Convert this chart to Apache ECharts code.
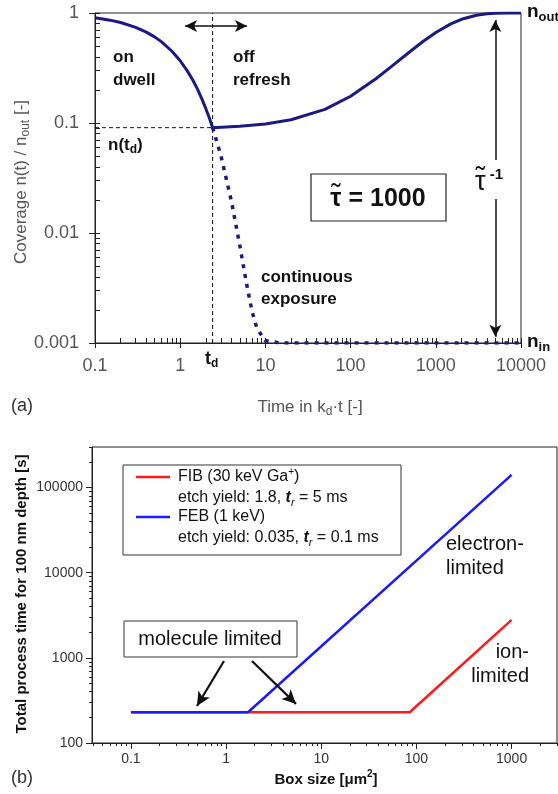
<!DOCTYPE html>
<html><head><meta charset="utf-8">
<script src="https://cdn.jsdelivr.net/npm/echarts@6/dist/echarts.min.js"></script>
<style>html,body{margin:0;padding:0;background:#fff}#c{width:558px;height:794px}</style>
</head><body><div id="c"></div>
<script>
// ---------- Panel (a): coverage vs time ----------
const aDwellT = [0.1, 0.15, 0.2, 0.3, 0.4, 0.5, 0.6, 0.8, 1, 1.2, 1.4, 1.6, 1.8, 2, 2.2, 2.4];
const aDwellN = [0.905, 0.861, 0.819, 0.741, 0.670, 0.607, 0.549, 0.449, 0.368, 0.301, 0.247, 0.202, 0.165, 0.135, 0.111, 0.0907];
const aRefreshT = [2.4, 5, 10, 20, 50, 100, 200, 300, 500, 700, 1000, 1500, 2000, 3000, 4000, 5000, 7000, 10000];
const aRefreshN = [0.0907, 0.0934, 0.0979, 0.107, 0.133, 0.175, 0.254, 0.325, 0.447, 0.548, 0.665, 0.797, 0.877, 0.955, 0.983, 0.994, 0.999, 1.0];
const aContT = [2.4, 3, 4, 5, 6, 7, 8, 10, 15, 10000];
const aContN = [0.0907, 0.0508, 0.0193, 0.00774, 0.00348, 0.00191, 0.00134, 0.00105, 0.001, 0.001];
const aTd = 2.4;
const aNtd = 0.0907;
const aTauArrowT = 5000;
const aXTicks = [0.1, 1, 10, 100, 1000, 10000];
const aYTicks = [0.001, 0.01, 0.1, 1];

// ---------- Panel (b): process time vs box size ----------
const bFibX = [0.1, 85, 1000];
const bFibY = [230, 230, 2800];
const bFebX = [0.1, 1.7, 1000];
const bFebY = [230, 230, 141000];
const bXTicks = [0.1, 1, 10, 100, 1000];
const bYTicks = [100, 1000, 10000, 100000];
const bXRange = [0.039, 3000];
const bYRange = [100, 300000];

const L = Math.log10;
const FF = "'Liberation Sans', Arial, Helvetica, sans-serif";
const pairs = (xs, ys) => xs.map((x, i) => [L(x), L(ys[i])]);

function minorVals(lo, hi, withMajor) {
  const out = [];
  for (let e = Math.floor(L(lo)) - 1; e <= Math.ceil(L(hi)); e++) {
    for (let k = withMajor ? 1 : 2; k <= 9; k++) {
      const v = k * Math.pow(10, e);
      if (v >= lo * 0.9999 && v <= hi * 1.0001) out.push(L(v));
    }
  }
  return out;
}
function fmt(ticks) {
  return function (v) {
    const t = ticks.find(t => Math.abs(L(t) - v) < 1e-6);
    return t === undefined ? '' : String(t);
  };
}

// ---------- rich text helper (for sub/superscripts and accents) ----------
const mctx = document.createElement('canvas').getContext('2d');
function rt(segs, x, y, o) {
  o = o || {};
  const base = { size: o.size || 16, weight: o.weight || 'normal', style: o.style || 'normal', fill: o.fill || '#111' };
  let cx = 0, prevStart = 0, prevW = 0;
  const kids = [];
  segs.forEach(s => {
    const p = Object.assign({}, base, s[1] || {});
    mctx.font = p.style + ' ' + p.weight + ' ' + p.size + 'px ' + FF;
    const w = mctx.measureText(s[0]).width;
    let px = cx;
    if (p.over) px = prevStart + prevW / 2 - w / 2;
    kids.push({ type: 'text', x: px, y: p.dy || 0, silent: true,
      style: { text: s[0], fill: p.fill, fontSize: p.size, fontWeight: p.weight, fontStyle: p.style, fontFamily: FF,
        align: 'left', textAlign: 'left', verticalAlign: 'middle', textVerticalAlign: 'middle' } });
    if (!p.over) { prevStart = cx; prevW = w; cx += w; }
  });
  const shift = o.align === 'center' ? -cx / 2 : (o.align === 'right' ? -cx : 0);
  kids.forEach(k => { k.x += shift; });
  return { type: 'group', x: x, y: y, rotation: o.rotation || 0, silent: true, children: kids };
}

const chart = echarts.init(document.getElementById('c'), null, { renderer: 'canvas' });

const axLine = { show: true, onZero: false, lineStyle: { color: '#222', width: 1 } };

const option = {
  animation: false,
  backgroundColor: '#fff',
  grid: [
    { left: 95, top: 13, width: 426, height: 330, show: true, borderColor: '#222', borderWidth: 1, backgroundColor: 'transparent' },
    { left: 92, top: 447, width: 465, height: 296, show: true, borderColor: '#222', borderWidth: 1, backgroundColor: 'transparent' }
  ],
  xAxis: [
    { gridIndex: 0, type: 'value', min: L(0.1), max: L(10000), position: 'bottom', axisLine: axLine,
      axisTick: { show: true, customValues: aXTicks.map(L), inside: false, length: 5, lineStyle: { color: '#222' } },
      axisLabel: { show: true, customValues: aXTicks.map(L), formatter: fmt(aXTicks), color: '#555', fontSize: 18, fontFamily: FF, margin: 14 },
      splitLine: { show: false } },
    { gridIndex: 0, type: 'value', min: L(0.1), max: L(10000), position: 'bottom', axisLine: { show: false, onZero: false },
      axisTick: { show: true, customValues: minorVals(0.1, 10000, true), inside: true, length: 5, lineStyle: { color: '#222' } },
      axisLabel: { show: false }, splitLine: { show: false } },
    { gridIndex: 1, type: 'value', min: L(bXRange[0]), max: L(bXRange[1]), position: 'bottom', axisLine: axLine,
      axisTick: { show: true, customValues: bXTicks.map(L), inside: false, length: 6, lineStyle: { color: '#222' } },
      axisLabel: { show: true, customValues: bXTicks.map(L), formatter: fmt(bXTicks), color: '#333', fontSize: 14, fontFamily: FF, margin: 9 },
      splitLine: { show: false } },
    { gridIndex: 1, type: 'value', min: L(bXRange[0]), max: L(bXRange[1]), position: 'bottom', axisLine: { show: false, onZero: false },
      axisTick: { show: true, customValues: minorVals(bXRange[0], bXRange[1], false), inside: false, length: 3, lineStyle: { color: '#222' } },
      axisLabel: { show: false }, splitLine: { show: false } }
  ],
  yAxis: [
    { gridIndex: 0, type: 'value', min: L(0.001), max: L(1), position: 'left', axisLine: axLine,
      axisTick: { show: true, customValues: aYTicks.map(L), inside: false, length: 6, lineStyle: { color: '#222' } },
      axisLabel: { show: true, customValues: aYTicks.map(L), formatter: fmt(aYTicks), color: '#555', fontSize: 18, fontFamily: FF, margin: 16 },
      splitLine: { show: false } },
    { gridIndex: 0, type: 'value', min: L(0.001), max: L(1), position: 'left', axisLine: { show: false, onZero: false },
      axisTick: { show: true, customValues: minorVals(0.001, 1, true), inside: true, length: 5, lineStyle: { color: '#222' } },
      axisLabel: { show: false }, splitLine: { show: false } },
    { gridIndex: 1, type: 'value', min: L(bYRange[0]), max: L(bYRange[1]), position: 'left', axisLine: axLine,
      axisTick: { show: true, customValues: bYTicks.map(L), inside: false, length: 6, lineStyle: { color: '#222' } },
      axisLabel: { show: true, customValues: bYTicks.map(L), formatter: fmt(bYTicks), color: '#333', fontSize: 14, fontFamily: FF, margin: 9 },
      splitLine: { show: false } },
    { gridIndex: 1, type: 'value', min: L(bYRange[0]), max: L(bYRange[1]), position: 'left', axisLine: { show: false, onZero: false },
      axisTick: { show: true, customValues: minorVals(bYRange[0], bYRange[1], false), inside: false, length: 3, lineStyle: { color: '#222' } },
      axisLabel: { show: false }, splitLine: { show: false } }
  ],
  series: [
    { name: 'n(td) guide', type: 'line', xAxisIndex: 0, yAxisIndex: 0, showSymbol: false, silent: true,
      data: [[L(0.1), L(aNtd)], [L(aTd), L(aNtd)]],
      lineStyle: { color: '#111', width: 1, type: [4, 3] },
      markLine: { silent: true, animation: false, symbolSize: [9, 12], label: { show: false }, emphasis: { disabled: true },
        lineStyle: { color: '#111', width: 1.5, type: 'solid' },
        data: [
          [{ coord: [L(1.14), L(0.762)], symbol: 'arrow' }, { coord: [L(6.08), L(0.762)], symbol: 'arrow' }],
          [{ coord: [L(aTauArrowT), L(0.0461)], symbol: 'none' }, { coord: [L(aTauArrowT), L(0.863)], symbol: 'arrow' }],
          [{ coord: [L(aTauArrowT), L(0.0204)], symbol: 'none' }, { coord: [L(aTauArrowT), L(0.00114)], symbol: 'arrow' }]
        ] } },
    { name: 'td guide', type: 'line', xAxisIndex: 0, yAxisIndex: 0, showSymbol: false, silent: true,
      data: [[L(aTd), L(0.001)], [L(aTd), L(1)]],
      lineStyle: { color: '#111', width: 1, type: [4, 3] } },
    { name: 'continuous exposure', type: 'line', xAxisIndex: 0, yAxisIndex: 0, showSymbol: false,
      data: pairs(aContT, aContN),
      lineStyle: { color: '#1a1a80', width: 3.5, type: [4, 6], cap: 'butt' } },
    { name: 'on/off', type: 'line', xAxisIndex: 0, yAxisIndex: 0, showSymbol: false,
      data: pairs(aDwellT, aDwellN).concat(pairs(aRefreshT, aRefreshN).slice(1)),
      lineStyle: { color: '#1a1a80', width: 3 } },
    { name: 'FIB (30 keV Ga+)', type: 'line', xAxisIndex: 2, yAxisIndex: 2, showSymbol: false,
      data: pairs(bFibX, bFibY),
      lineStyle: { color: '#ff1a1a', width: 2.5 },
      markLine: { silent: true, animation: false, symbolSize: [10, 14], label: { show: false }, emphasis: { disabled: true },
        lineStyle: { color: '#111', width: 2.2, type: 'solid' },
        data: [
          [{ coord: [L(0.951), L(920)], symbol: 'none' }, { coord: [L(0.494), L(272)], symbol: 'arrow' }],
          [{ coord: [L(1.87), L(920)], symbol: 'none' }, { coord: [L(5.43), L(288)], symbol: 'arrow' }]
        ] } },
    { name: 'FEB (1 keV)', type: 'line', xAxisIndex: 2, yAxisIndex: 2, showSymbol: false,
      data: pairs(bFebX, bFebY),
      lineStyle: { color: '#1a1aff', width: 2.5 } }
  ],
  graphic: { elements: [
    // panel (a) annotations
    rt([['on']], 113, 57, { size: 17, weight: 'bold' }),
    rt([['dwell']], 113, 80, { size: 17, weight: 'bold' }),
    rt([['off']], 233, 57, { size: 17, weight: 'bold' }),
    rt([['refresh']], 233, 80, { size: 17, weight: 'bold' }),
    rt([['n(t'], ['d', { size: 12, dy: 5 }], [')']], 108, 145, { size: 17, weight: 'bold' }),
    rt([['t'], ['d', { size: 12, dy: 5 }]], 205, 359, { size: 18, weight: 'bold' }),
    rt([['continuous']], 261, 277, { size: 17, weight: 'bold' }),
    rt([['exposure']], 261, 299, { size: 17, weight: 'bold' }),
    { type: 'rect', shape: { x: 311, y: 174, width: 135, height: 47 }, style: { fill: '#fff', stroke: '#222', lineWidth: 1.2 }, silent: true },
    rt([['\u03C4'], ['\u02DC', { over: true, size: 28, weight: 'normal', dy: -4 }], [' = 1000']], 378, 199, { size: 25, weight: 'bold', align: 'center' }),
    rt([['\u03C4', { size: 27, weight: 'normal' }], ['\u02DC', { over: true, size: 28, weight: 'normal', dy: -5 }], [' -1', { size: 15, dy: -8 }]], 475, 183, { weight: 'bold' }),
    rt([['n', { size: 19 }], ['out', { size: 13, dy: 5 }]], 527, 12, { weight: 'bold' }),
    rt([['n', { size: 19 }], ['in', { size: 13, dy: 5 }]], 527, 342, { weight: 'bold' }),
    rt([['Coverage n(t) / n'], ['out', { size: 12, dy: 5 }], [' [-]']], 21, 182, { size: 17, fill: '#555', align: 'center', rotation: Math.PI / 2 }),
    rt([['Time in k'], ['d', { size: 12, dy: 5 }], ['\u00B7t [-]']], 310, 407, { size: 17, fill: '#555', align: 'center' }),
    rt([['(a)']], 11, 406, { size: 18, fill: '#333' }),
    // panel (b) legend
    { type: 'rect', shape: { x: 123, y: 465, width: 278, height: 90 }, style: { fill: '#fff', stroke: '#333', lineWidth: 1 }, silent: true },
    { type: 'line', shape: { x1: 136, y1: 477, x2: 170, y2: 477 }, style: { stroke: '#ff1a1a', lineWidth: 2.5 }, silent: true },
    { type: 'line', shape: { x1: 136, y1: 517, x2: 170, y2: 517 }, style: { stroke: '#1a1aff', lineWidth: 2.5 }, silent: true },
    rt([['FIB (30 keV Ga'], ['+', { size: 10, dy: -5 }], [')']], 178, 477, { size: 16 }),
    rt([['etch yield: 1.8, '], ['t', { style: 'italic', weight: 'bold' }], ['r', { size: 11, dy: 5, style: 'italic' }], [' = 5 ms']], 178, 498, { size: 16 }),
    rt([['FEB (1 keV)']], 178, 517, { size: 16 }),
    rt([['etch yield: 0.035, '], ['t', { style: 'italic', weight: 'bold' }], ['r', { size: 11, dy: 5, style: 'italic' }], [' = 0.1 ms']], 178, 538, { size: 16 }),
    // panel (b) annotations
    { type: 'rect', shape: { x: 124, y: 621, width: 173, height: 36 }, style: { fill: '#fff', stroke: '#333', lineWidth: 1 }, silent: true },
    rt([['molecule limited']], 210, 639, { size: 20, align: 'center' }),
    rt([['electron-']], 446, 544, { size: 20 }),
    rt([['limited']], 446, 568, { size: 20 }),
    rt([['ion-']], 529, 652, { size: 20, align: 'right' }),
    rt([['limited']], 529, 676, { size: 20, align: 'right' }),
    rt([['Total process time for 100 nm depth [s]']], 22, 594, { size: 15, weight: 'bold', align: 'center', rotation: Math.PI / 2 }),
    rt([['Box size ['], ['\u03BCm'], ['2', { size: 10, dy: -6 }], [']']], 326, 780, { size: 15, weight: 'bold', align: 'center' }),
    rt([['(b)']], 11, 778, { size: 18, fill: '#333' })
  ] }
};
chart.setOption(option);
</script>
</body></html>
